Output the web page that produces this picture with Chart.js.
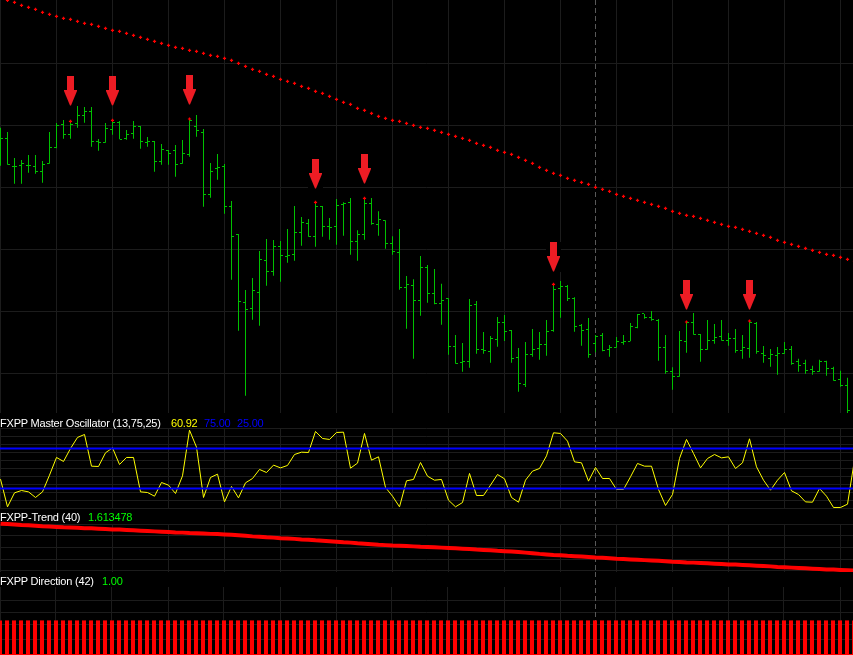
<!DOCTYPE html>
<html>
<head>
<meta charset="utf-8">
<title>FXPP chart</title>
<script src="https://cdn.jsdelivr.net/npm/chart.js@4.4.1/dist/chart.umd.min.js"></script>
<style>
  html, body { margin: 0; padding: 0; background: #000; }
  #wrap { position: relative; width: 853px; height: 655px; overflow: hidden; background: #000; }
  canvas { position: absolute; left: 0; }
  .lbl { position: absolute; font-family: "Liberation Sans", Arial, sans-serif; font-size: 11px;
         line-height: 11px; letter-spacing: -0.2px; white-space: nowrap; }
</style>
</head>
<body>
<div id="wrap">
  <canvas id="mainPane" width="853" height="413" style="top:0"></canvas>
  <canvas id="oscPane" width="853" height="96" style="top:413px"></canvas>
  <canvas id="trendPane" width="853" height="63" style="top:509px"></canvas>
  <canvas id="dirPane" width="853" height="83" style="top:572px"></canvas>

  <span class="lbl" style="left:0;top:418px;color:#ffffff">FXPP Master Oscillator (13,75,25)</span>
  <span class="lbl" style="left:171px;top:418px;color:#ffff00">60.92</span>
  <span class="lbl" style="left:204px;top:418px;color:#0000ff">75.00</span>
  <span class="lbl" style="left:237px;top:418px;color:#0000ff">25.00</span>

  <span class="lbl" style="left:0;top:512px;color:#ffffff">FXPP-Trend (40)</span>
  <span class="lbl" style="left:88px;top:512px;color:#00ff00">1.613478</span>

  <span class="lbl" style="left:0;top:576px;color:#ffffff">FXPP Direction (42)</span>
  <span class="lbl" style="left:102px;top:576px;color:#00ff00">1.00</span>
</div>

<script>
// price bars, one entry per bar (bar 0 = left edge)
const highs = [
  1.62723, 1.62680, 1.62420, 1.62400, 1.62450, 1.62450, 1.62390, 1.62680, 1.62770, 1.62800,
  1.62787, 1.62950, 1.62930, 1.62930, 1.62610, 1.62770, 1.62797, 1.62790, 1.62700, 1.62790,
  1.62740, 1.62630, 1.62590, 1.62560, 1.62500, 1.62550, 1.62600, 1.62810, 1.62850, 1.62710,
  1.62370, 1.62460, 1.62360, 1.61990, 1.61660, 1.61100, 1.61220, 1.61490, 1.61610, 1.61600,
  1.61590, 1.61710, 1.61940, 1.61830, 1.61810, 1.61977, 1.61940, 1.61820, 1.62010, 1.61977,
  1.62020, 1.61697, 1.62017, 1.62020, 1.61887, 1.61797, 1.61637, 1.61710, 1.61240, 1.61207,
  1.61440, 1.61350, 1.61310, 1.61163, 1.61017, 1.60650, 1.60570, 1.61010, 1.60990, 1.60680,
  1.60640, 1.60830, 1.60850, 1.60700, 1.60520, 1.60580, 1.60710, 1.60680, 1.60800, 1.61157,
  1.61190, 1.61150, 1.61027, 1.60760, 1.60820, 1.60650, 1.60670, 1.60550, 1.60630, 1.60650,
  1.60770, 1.60860, 1.60860, 1.60890, 1.60810, 1.60650, 1.60327, 1.60690, 1.60780, 1.60870,
  1.60660, 1.60800, 1.60760, 1.60800, 1.60670, 1.60710, 1.60650, 1.60790, 1.60780, 1.60540,
  1.60510, 1.60530, 1.60580, 1.60540, 1.60413, 1.60403, 1.60343, 1.60403, 1.60393, 1.60333,
  1.60293, 1.60223
];
const lows = [
  1.62343, 1.62353, 1.62163, 1.62163, 1.62273, 1.62263, 1.62173, 1.62363, 1.62517, 1.62613,
  1.62613, 1.62723, 1.62773, 1.62533, 1.62493, 1.62573, 1.62653, 1.62607, 1.62603, 1.62613,
  1.62513, 1.62533, 1.62283, 1.62353, 1.62353, 1.62233, 1.62363, 1.62433, 1.62633, 1.61933,
  1.62023, 1.62203, 1.61863, 1.61203, 1.60693, 1.60043, 1.60803, 1.60743, 1.61143, 1.61243,
  1.61183, 1.61373, 1.61393, 1.61543, 1.61633, 1.61533, 1.61633, 1.61603, 1.61553, 1.61643,
  1.61453, 1.61393, 1.61603, 1.61753, 1.61643, 1.61513, 1.61453, 1.61103, 1.60713, 1.60413,
  1.60843, 1.60973, 1.60957, 1.60753, 1.60453, 1.60363, 1.60283, 1.60323, 1.60463, 1.60463,
  1.60373, 1.60533, 1.60590, 1.60373, 1.60083, 1.60130, 1.60433, 1.60403, 1.60443, 1.60683,
  1.60823, 1.60990, 1.60683, 1.60543, 1.60423, 1.60477, 1.60487, 1.60433, 1.60523, 1.60553,
  1.60587, 1.60717, 1.60813, 1.60793, 1.60393, 1.60263, 1.60103, 1.60233, 1.60473, 1.60653,
  1.60383, 1.60503, 1.60563, 1.60593, 1.60543, 1.60473, 1.60413, 1.60423, 1.60463, 1.60373,
  1.60333, 1.60253, 1.60463, 1.60353, 1.60283, 1.60263, 1.60253, 1.60283, 1.60243, 1.60193,
  1.60133, 1.59870
];
const opens = [
  1.62500, 1.62610, 1.62337, 1.62350, 1.62347, 1.62337, 1.62287, 1.62367, 1.62523, 1.62757,
  1.62657, 1.62770, 1.62847, 1.62887, 1.62587, 1.62577, 1.62707, 1.62780, 1.62617, 1.62667,
  1.62737, 1.62577, 1.62583, 1.62387, 1.62497, 1.62493, 1.62367, 1.62457, 1.62733, 1.62677,
  1.62057, 1.62310, 1.62337, 1.61937, 1.61650, 1.60977, 1.60917, 1.61077, 1.61397, 1.61287,
  1.61537, 1.61437, 1.61457, 1.61677, 1.61767, 1.61637, 1.61937, 1.61737, 1.61737, 1.61957,
  1.61977, 1.61587, 1.61657, 1.61967, 1.61757, 1.61797, 1.61567, 1.61477, 1.61127, 1.61147,
  1.60997, 1.61327, 1.61060, 1.60967, 1.61010, 1.60537, 1.60377, 1.60387, 1.60957, 1.60503,
  1.60487, 1.60607, 1.60777, 1.60697, 1.60427, 1.60157, 1.60457, 1.60517, 1.60557, 1.60697,
  1.61117, 1.61137, 1.61017, 1.60747, 1.60707, 1.60567, 1.60647, 1.60507, 1.60527, 1.60577,
  1.60587, 1.60727, 1.60860, 1.60827, 1.60797, 1.60527, 1.60287, 1.60237, 1.60587, 1.60777,
  1.60657, 1.60507, 1.60597, 1.60637, 1.60597, 1.60617, 1.60497, 1.60517, 1.60770, 1.60467,
  1.60417, 1.60447, 1.60467, 1.60507, 1.60383, 1.60363, 1.60303, 1.60283, 1.60383, 1.60313,
  1.60203, 1.60143
];
const closes = [
  1.62610, 1.62357, 1.62337, 1.62367, 1.62347, 1.62283, 1.62357, 1.62527, 1.62747, 1.62653,
  1.62757, 1.62847, 1.62887, 1.62587, 1.62580, 1.62710, 1.62777, 1.62607, 1.62650, 1.62737,
  1.62587, 1.62587, 1.62387, 1.62507, 1.62467, 1.62357, 1.62467, 1.62800, 1.62693, 1.62057,
  1.62287, 1.62327, 1.61937, 1.61637, 1.60987, 1.60910, 1.61097, 1.61407, 1.61287, 1.61537,
  1.61447, 1.61447, 1.61677, 1.61777, 1.61637, 1.61937, 1.61737, 1.61727, 1.61947, 1.61967,
  1.61587, 1.61657, 1.61967, 1.61767, 1.61807, 1.61567, 1.61487, 1.61127, 1.61157, 1.60997,
  1.61327, 1.61067, 1.60967, 1.60997, 1.60537, 1.60367, 1.60387, 1.60947, 1.60507, 1.60497,
  1.60613, 1.60777, 1.60687, 1.60417, 1.60167, 1.60457, 1.60510, 1.60557, 1.60687, 1.61107,
  1.61137, 1.61017, 1.60737, 1.60697, 1.60457, 1.60637, 1.60497, 1.60527, 1.60587, 1.60587,
  1.60737, 1.60857, 1.60827, 1.60807, 1.60527, 1.60283, 1.60237, 1.60597, 1.60777, 1.60657,
  1.60507, 1.60597, 1.60627, 1.60597, 1.60617, 1.60497, 1.60527, 1.60780, 1.60483, 1.60447,
  1.60457, 1.60467, 1.60507, 1.60363, 1.60343, 1.60293, 1.60283, 1.60383, 1.60313, 1.60193,
  1.60143, 1.59893
];

// FXPP-Trend (40): dotted in the price pane, thick line in its own pane
const trendValues = [
  1.64017, 1.63997, 1.63977, 1.63947, 1.63927, 1.63907, 1.63877, 1.63857, 1.63837, 1.63817,
  1.63807, 1.63787, 1.63767, 1.63757, 1.63737, 1.63717, 1.63697, 1.63687, 1.63667, 1.63647,
  1.63627, 1.63607, 1.63587, 1.63567, 1.63547, 1.63527, 1.63517, 1.63497, 1.63487, 1.63467,
  1.63447, 1.63437, 1.63417, 1.63397, 1.63367, 1.63337, 1.63307, 1.63287, 1.63257, 1.63237,
  1.63207, 1.63187, 1.63167, 1.63137, 1.63117, 1.63087, 1.63067, 1.63037, 1.63007, 1.62977,
  1.62957, 1.62917, 1.62897, 1.62867, 1.62837, 1.62817, 1.62797, 1.62787, 1.62767, 1.62747,
  1.62727, 1.62717, 1.62697, 1.62677, 1.62657, 1.62637, 1.62617, 1.62597, 1.62567, 1.62547,
  1.62527, 1.62497, 1.62477, 1.62457, 1.62427, 1.62397, 1.62367, 1.62327, 1.62297, 1.62267,
  1.62247, 1.62217, 1.62197, 1.62177, 1.62157, 1.62127, 1.62107, 1.62087, 1.62057, 1.62037,
  1.62017, 1.61997, 1.61977, 1.61957, 1.61937, 1.61917, 1.61887, 1.61867, 1.61847, 1.61837,
  1.61817, 1.61797, 1.61777, 1.61757, 1.61737, 1.61727, 1.61707, 1.61687, 1.61667, 1.61647,
  1.61627, 1.61597, 1.61577, 1.61557, 1.61537, 1.61517, 1.61497, 1.61477, 1.61457, 1.61447,
  1.61427, 1.61407, 1.61387
];

// FXPP Master Oscillator (13,75,25)
const oscValues = [
  36.7, 2.1, 19.6, 22.5, 20.8, 13.8, 20.8, 41.7, 63.8, 58.8,
  75.0, 88.8, 92.5, 52.9, 52.5, 69.6, 75.8, 55.0, 63.8, 63.8,
  20.8, 20.0, 15.4, 32.5, 29.2, 18.8, 40.8, 97.9, 76.7, 13.8,
  38.8, 42.9, 8.3, 27.5, 13.3, 32.1, 37.5, 48.8, 45.0, 54.2,
  50.8, 53.8, 67.5, 70.4, 70.0, 96.3, 87.5, 86.3, 95.0, 95.4,
  50.4, 56.7, 93.8, 60.4, 64.6, 26.3, 15.4, 2.1, 34.6, 36.3,
  57.5, 40.4, 35.4, 36.3, 10.4, 2.1, 7.5, 43.8, 16.3, 16.3,
  29.2, 42.5, 37.1, 13.8, 7.9, 35.4, 46.7, 50.0, 65.8, 94.6,
  93.8, 84.2, 58.3, 57.1, 34.2, 51.3, 37.5, 37.5, 23.8, 23.8,
  39.6, 56.3, 52.9, 52.9, 23.8, 3.8, 17.5, 62.5, 86.3, 68.8,
  50.8, 62.5, 67.5, 63.3, 64.6, 50.0, 57.1, 87.1, 52.1, 35.4,
  22.9, 35.4, 45.0, 22.1, 17.5, 8.3, 7.9, 25.0, 15.4, 1.3,
  1.3, 5.4, 60.92
];
const oscLevels = [75, 25];

// FXPP Direction (42)
const directionValues = [
  1, 1, 1, 1, 1, 1, 1, 1, 1, 1, 1, 1, 1, 1, 1, 1, 1, 1, 1, 1,
  1, 1, 1, 1, 1, 1, 1, 1, 1, 1, 1, 1, 1, 1, 1, 1, 1, 1, 1, 1,
  1, 1, 1, 1, 1, 1, 1, 1, 1, 1, 1, 1, 1, 1, 1, 1, 1, 1, 1, 1,
  1, 1, 1, 1, 1, 1, 1, 1, 1, 1, 1, 1, 1, 1, 1, 1, 1, 1, 1, 1,
  1, 1, 1, 1, 1, 1, 1, 1, 1, 1, 1, 1, 1, 1, 1, 1, 1, 1, 1, 1,
  1, 1, 1, 1, 1, 1, 1, 1, 1, 1, 1, 1, 1, 1, 1, 1, 1, 1, 1, 1,
  1, 1, 1
];

// sell signals: bar index and the price of the arrow tip
const signalBars = [10, 16, 27, 45, 52, 79, 98, 107];
const signalTips = [1.62950, 1.62950, 1.62963, 1.62117, 1.62167, 1.61293, 1.60913, 1.60913];

const separatorBar = 85;
const timeGrid = [0, 8, 16, 24, 32, 40, 48, 56, 64, 72, 80, 88, 96, 104, 112, 120];
const priceGrid = [1.6336, 1.6274, 1.6212, 1.6150, 1.6088, 1.6026];
const oscGrid = [0, 10, 20, 30, 40, 50, 60, 70, 80, 90, 100];
const trendGrid = [1.6398, 1.6333, 1.6268, 1.6203, 1.6138];
const directionGrid = [1.584, 1.232, 0.88, 0.44];

const GRID = '#1c1c1c';
const BAR_GREEN = '#00c000';
const RED = '#ff0000';
const ARROW_RED = '#ed1c24';
const BARS_VISIBLE = 853 / 7;   // 7 px per bar
const X_MIN = -0.5 / 7;

function xAxis(min) {
  return {
    type: 'linear', min: min, max: min + BARS_VISIBLE, offset: false,
    grid: { color: GRID, drawTicks: false, offset: false },
    border: { display: false },
    ticks: { display: false },
    afterBuildTicks: s => { s.ticks = timeGrid.map(v => ({ value: v })); }
  };
}

function yAxis(min, max, gridValues, z) {
  return {
    type: 'linear', min: min, max: max, z: z || 0,
    grid: { color: GRID, drawTicks: false },
    border: { display: false },
    ticks: { display: false },
    afterBuildTicks: s => { s.ticks = gridValues.map(v => ({ value: v })); }
  };
}

function baseOptions(topPad) {
  return {
    responsive: false,
    maintainAspectRatio: false,
    animation: false,
    devicePixelRatio: 1,
    events: [],
    layout: { padding: { top: topPad, left: 0, right: 0, bottom: 0 }, autoPadding: false },
    plugins: { legend: { display: false }, tooltip: { enabled: false } }
  };
}

// dashed period separator through every pane
const periodSeparator = {
  id: 'periodSeparator',
  beforeDatasetsDraw(chart) {
    const { ctx, scales: { x } } = chart;
    const px = Math.floor(x.getPixelForValue(separatorBar)) + 0.5;
    ctx.save();
    ctx.strokeStyle = '#595959';
    ctx.lineWidth = 1;
    ctx.setLineDash([5, 3]);
    ctx.beginPath();
    ctx.moveTo(px, 0);
    ctx.lineTo(px, chart.height);
    ctx.stroke();
    ctx.restore();
  }
};

// open / close ticks of the price bars
const ohlcTicks = {
  id: 'ohlcTicks',
  afterDatasetsDraw(chart) {
    const { ctx, scales: { x, y } } = chart;
    ctx.save();
    ctx.fillStyle = BAR_GREEN;
    opens.forEach((o, i) => {
      const px = Math.floor(x.getPixelForValue(i));
      ctx.fillRect(px - 2, Math.floor(y.getPixelForValue(o)), 2, 1);
      ctx.fillRect(px + 1, Math.floor(y.getPixelForValue(closes[i])), 2, 1);
    });
    ctx.restore();
  }
};

const signalArrows = {
  id: 'signalArrows',
  afterDatasetsDraw(chart) {
    const { ctx, scales: { x, y } } = chart;
    ctx.save();
    signalBars.forEach((bar, j) => {
      const cx = Math.floor(x.getPixelForValue(bar)) + 0.5;
      const tip = Math.round(y.getPixelForValue(signalTips[j]));
      ctx.fillStyle = '#000000';
      ctx.fillRect(cx - 7.5, tip - 29, 15, 30);
      ctx.fillStyle = ARROW_RED;
      ctx.fillRect(cx - 3.5, tip - 29, 7, 14);
      ctx.beginPath();
      ctx.moveTo(cx - 6.5, tip - 15);
      ctx.lineTo(cx + 6.5, tip - 15);
      ctx.lineTo(cx + 6.5, tip - 14);
      ctx.lineTo(cx + 0.5, tip + 0.5);
      ctx.lineTo(cx - 0.5, tip + 0.5);
      ctx.lineTo(cx - 6.5, tip - 14);
      ctx.closePath();
      ctx.fill();
    });
    ctx.restore();
  }
};

const zeroLine = {
  id: 'zeroLine',
  afterDatasetsDraw(chart) {
    const { ctx, chartArea, scales: { y } } = chart;
    const py = Math.floor(y.getPixelForValue(0)) + 0.5;
    ctx.save();
    ctx.strokeStyle = RED;
    ctx.lineWidth = 1;
    ctx.beginPath();
    ctx.moveTo(chartArea.left, py);
    ctx.lineTo(chartArea.right, py);
    ctx.stroke();
    ctx.restore();
  }
};

// price pane
const mainOpts = baseOptions(0);
mainOpts.scales = { x: xAxis(X_MIN), y: yAxis(1.5987, 1.6400, priceGrid) };
new Chart(document.getElementById('mainPane'), {
  type: 'bar',
  data: {
    datasets: [
      {
        type: 'bar',
        data: highs.map((h, i) => ({ x: i, y: [lows[i], h] })),
        backgroundColor: BAR_GREEN,
        borderWidth: 0,
        barThickness: 1,
        inflateAmount: 0,
        grouped: false,
        order: 2
      },
      {
        type: 'line',
        data: trendValues.map((v, i) => ({ x: i, y: v })),
        showLine: false,
        pointStyle: 'cross',
        pointRadius: 1.6,
        pointBorderColor: RED,
        pointBackgroundColor: RED,
        pointBorderWidth: 1.2,
        order: 1
      },
      {
        type: 'line',
        data: signalBars.map(i => ({ x: i, y: highs[i] })),
        showLine: false,
        pointStyle: 'cross',
        pointRadius: 1.6,
        pointBorderColor: RED,
        pointBackgroundColor: RED,
        pointBorderWidth: 1.2,
        order: 0
      }
    ]
  },
  options: mainOpts,
  plugins: [periodSeparator, ohlcTicks, signalArrows]
});

// oscillator pane
const oscOpts = baseOptions(15);
oscOpts.scales = { x: xAxis(X_MIN), y: yAxis(-0.6, 100.6, oscGrid) };
new Chart(document.getElementById('oscPane'), {
  type: 'line',
  data: {
    datasets: oscLevels.map(level => ({
      data: [{ x: X_MIN, y: level }, { x: X_MIN + BARS_VISIBLE, y: level }],
      borderColor: '#0000ff',
      borderWidth: 2,
      pointRadius: 0
    })).concat([{
      data: oscValues.map((v, i) => ({ x: i, y: v })),
      borderColor: '#ffff00',
      borderWidth: 1,
      pointRadius: 0,
      tension: 0
    }])
  },
  options: oscOpts,
  plugins: [periodSeparator]
});

// trend pane
const trendOpts = baseOptions(15);
trendOpts.scales = { x: xAxis(X_MIN), y: yAxis(1.61312, 1.64000, trendGrid) };
new Chart(document.getElementById('trendPane'), {
  type: 'line',
  data: {
    datasets: [{
      data: trendValues.map((v, i) => ({ x: i, y: v })),
      borderColor: RED,
      borderWidth: 4,
      pointRadius: 0,
      tension: 0,
      clip: false
    }]
  },
  options: trendOpts,
  plugins: [periodSeparator]
});

// direction pane
const dirOpts = baseOptions(15);
dirOpts.scales = { x: xAxis(0), y: yAxis(-0.015, 1.98, directionGrid, 1) };
new Chart(document.getElementById('dirPane'), {
  type: 'bar',
  data: {
    datasets: [{
      data: directionValues.map((v, i) => ({ x: i, y: v })),
      backgroundColor: RED,
      borderWidth: 0,
      barThickness: 4,
      inflateAmount: 0,
      grouped: false
    }]
  },
  options: dirOpts,
  plugins: [periodSeparator, zeroLine]
});
</script>
</body>
</html>
